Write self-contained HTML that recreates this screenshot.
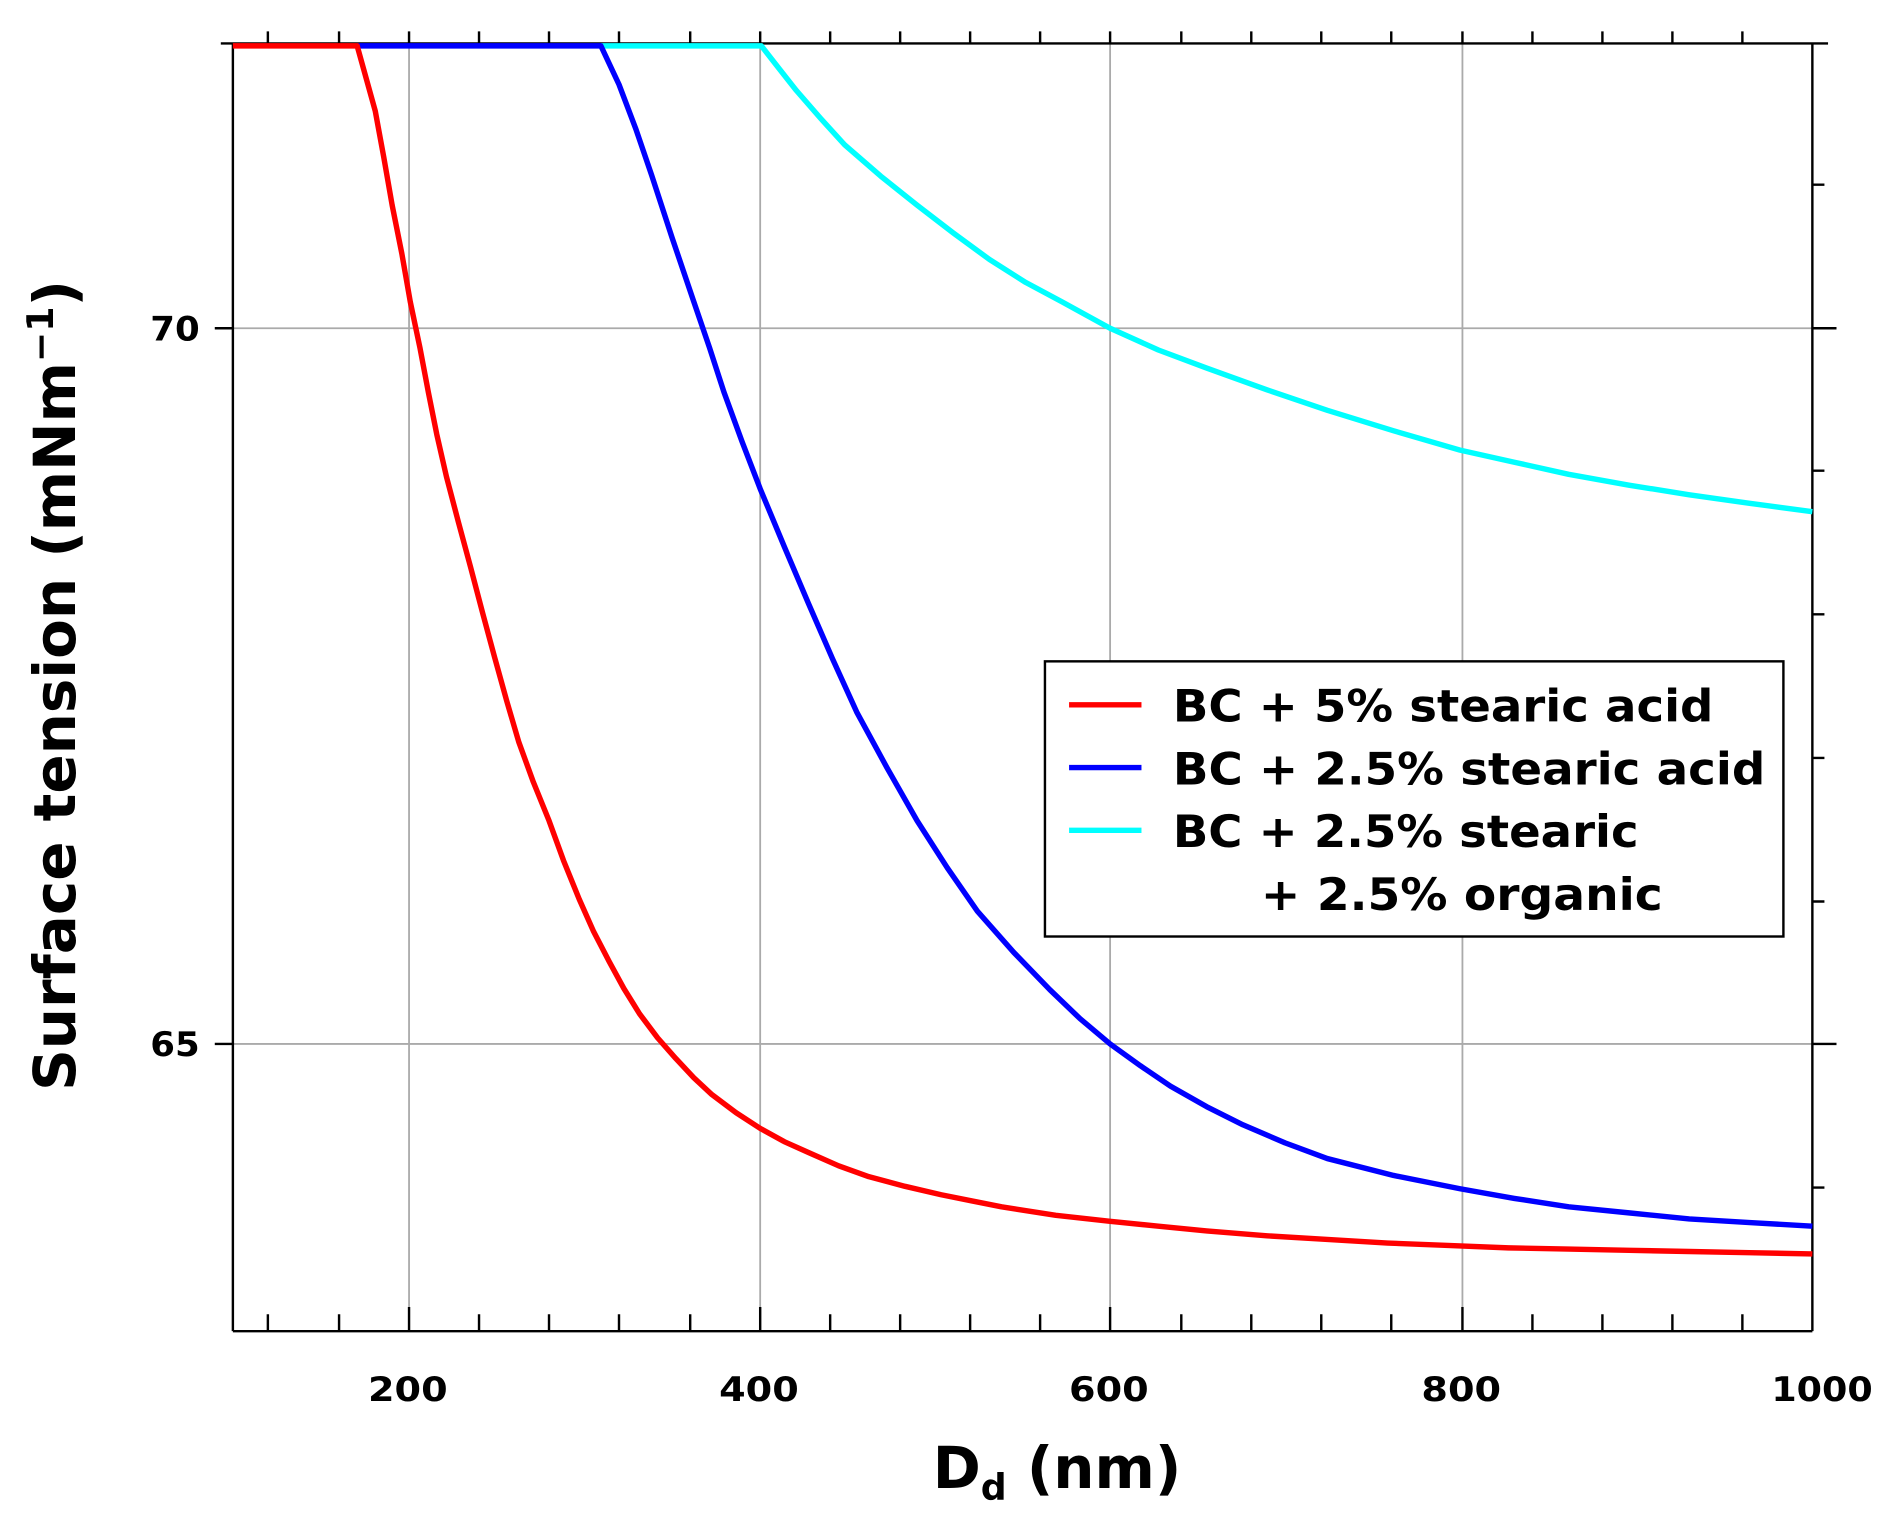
<!DOCTYPE html>
<html><head><style>html,body{margin:0;padding:0;background:#fff}svg{display:block}</style></head><body>
<svg width="1892" height="1517" viewBox="0 0 1568 1257" preserveAspectRatio="none" xmlns="http://www.w3.org/2000/svg" font-family="DejaVu Sans, Liberation Sans, sans-serif" font-weight="bold">
<rect width="1568" height="1257" fill="#fff"/>
<g stroke="#aaa" stroke-width="1.5">
<line x1="339" y1="36" x2="339" y2="1103"/><line x1="630" y1="36" x2="630" y2="1103"/><line x1="920" y1="36" x2="920" y2="1103"/><line x1="1212" y1="36" x2="1212" y2="1103"/>
<line x1="193" y1="272" x2="1502" y2="272"/><line x1="193" y1="865" x2="1502" y2="865"/>
</g>
<g stroke="#000" stroke-width="2" fill="none">
<line x1="193" y1="36" x2="193" y2="1103"/><line x1="1502" y1="36" x2="1502" y2="1103"/>
<line x1="193" y1="1103" x2="1502" y2="1103"/><line x1="183" y1="36" x2="1515" y2="36"/>
<path d="M222 1103v-14M281 1103v-14M397 1103v-14M455 1103v-14M513 1103v-14M572 1103v-14M688 1103v-14M746 1103v-14M804 1103v-14M862 1103v-14M979 1103v-14M1037 1103v-14M1095 1103v-14M1153 1103v-14M1270 1103v-14M1328 1103v-14M1386 1103v-14M1444 1103v-14"/>
<path d="M339 1103v-20M630 1103v-20M920 1103v-20M1212 1103v-20"/>
<path d="M222 36v-10M281 36v-10M397 36v-10M455 36v-10M513 36v-10M572 36v-10M688 36v-10M746 36v-10M804 36v-10M862 36v-10M979 36v-10M1037 36v-10M1095 36v-10M1153 36v-10M1270 36v-10M1328 36v-10M1386 36v-10M1444 36v-10M339 36v-10M630 36v-10M920 36v-10M1212 36v-10"/>
<path d="M1502 153h10M1502 390h10M1502 509h10M1502 628h10M1502 747h10M1502 984h10M1502 272h20M1502 865h20M178 272h15M178 865h15"/>
</g>
<g fill="none" stroke-width="4.5" stroke-linejoin="round">
<polyline stroke="#00ffff" points="498,38 631,38 645,56 660,75 680,98 700,120 730,146 760,170 790,193 820,215 850,234 880,250 920,272 960,290 1000,305 1050,323 1100,340 1155,357 1210,373 1255,383 1300,393 1350,402 1400,410 1450,417 1502,424"/>
<polyline stroke="#0000ff" points="296,38 498,38 513,70 527,107 540,145 557,197 575,250 588,288 600,325 615,366 630,405 650,453 670,500 690,546 710,590 735,636 760,680 785,719 810,755 840,789 870,820 895,844 920,865 945,883 970,900 1000,917 1030,932 1065,947 1100,960 1155,974 1210,985 1255,993 1300,1000 1350,1005 1400,1010 1450,1013 1502,1016"/>
<polyline stroke="#ff0000" points="193,38 296,38 311,92 318,130 325,170 333,210 340,250 348,288 355,325 362,360 370,395 380,433 390,470 400,508 410,545 420,581 430,615 442,648 455,680 467,713 480,745 492,772 505,797 517,819 530,840 545,860 560,877 575,893 590,907 610,922 630,935 650,946 670,955 695,966 720,975 750,983 780,990 805,995 830,1000 875,1007 920,1012 960,1016 1000,1020 1050,1024 1100,1027 1150,1030 1200,1032 1250,1034 1300,1035 1350,1036 1400,1037 1450,1038 1502,1039"/>
</g>
<g font-size="28" text-anchor="middle">
<text x="145" y="282" textLength="41" lengthAdjust="spacingAndGlyphs">70</text><text x="145" y="875" textLength="41" lengthAdjust="spacingAndGlyphs">65</text>
<text x="338" y="1161" textLength="66" lengthAdjust="spacingAndGlyphs">200</text><text x="629" y="1161" textLength="66" lengthAdjust="spacingAndGlyphs">400</text><text x="919" y="1161" textLength="66" lengthAdjust="spacingAndGlyphs">600</text><text x="1211" y="1161" textLength="66" lengthAdjust="spacingAndGlyphs">800</text><text x="1510" y="1161" textLength="84" lengthAdjust="spacingAndGlyphs">1000</text>
</g>
<text x="876" y="1233" font-size="48" text-anchor="middle">D<tspan font-size="30" dy="10">d</tspan><tspan dy="-10"> (nm)</tspan></text>
<text transform="translate(62,568) rotate(-90)" font-size="48" text-anchor="middle">Surface tension (mNm<tspan font-size="30" dy="-18">−1</tspan><tspan dy="18">)</tspan></text>
<rect x="866" y="548" width="612" height="228" fill="#fff" stroke="#000" stroke-width="2"/>
<g stroke-width="4.5"><line x1="886" y1="584" x2="946" y2="584" stroke="#ff0000"/><line x1="886" y1="636" x2="946" y2="636" stroke="#0000ff"/><line x1="886" y1="688" x2="946" y2="688" stroke="#00ffff"/></g>
<g font-size="37">
<text x="972" y="598" textLength="448" lengthAdjust="spacingAndGlyphs">BC + 5% stearic acid</text>
<text x="972" y="650" textLength="491" lengthAdjust="spacingAndGlyphs">BC + 2.5% stearic acid</text>
<text x="972" y="702" textLength="386" lengthAdjust="spacingAndGlyphs">BC + 2.5% stearic</text>
<text x="1045" y="754" textLength="333" lengthAdjust="spacingAndGlyphs">+ 2.5% organic</text>
</g>
</svg>
</body></html>
